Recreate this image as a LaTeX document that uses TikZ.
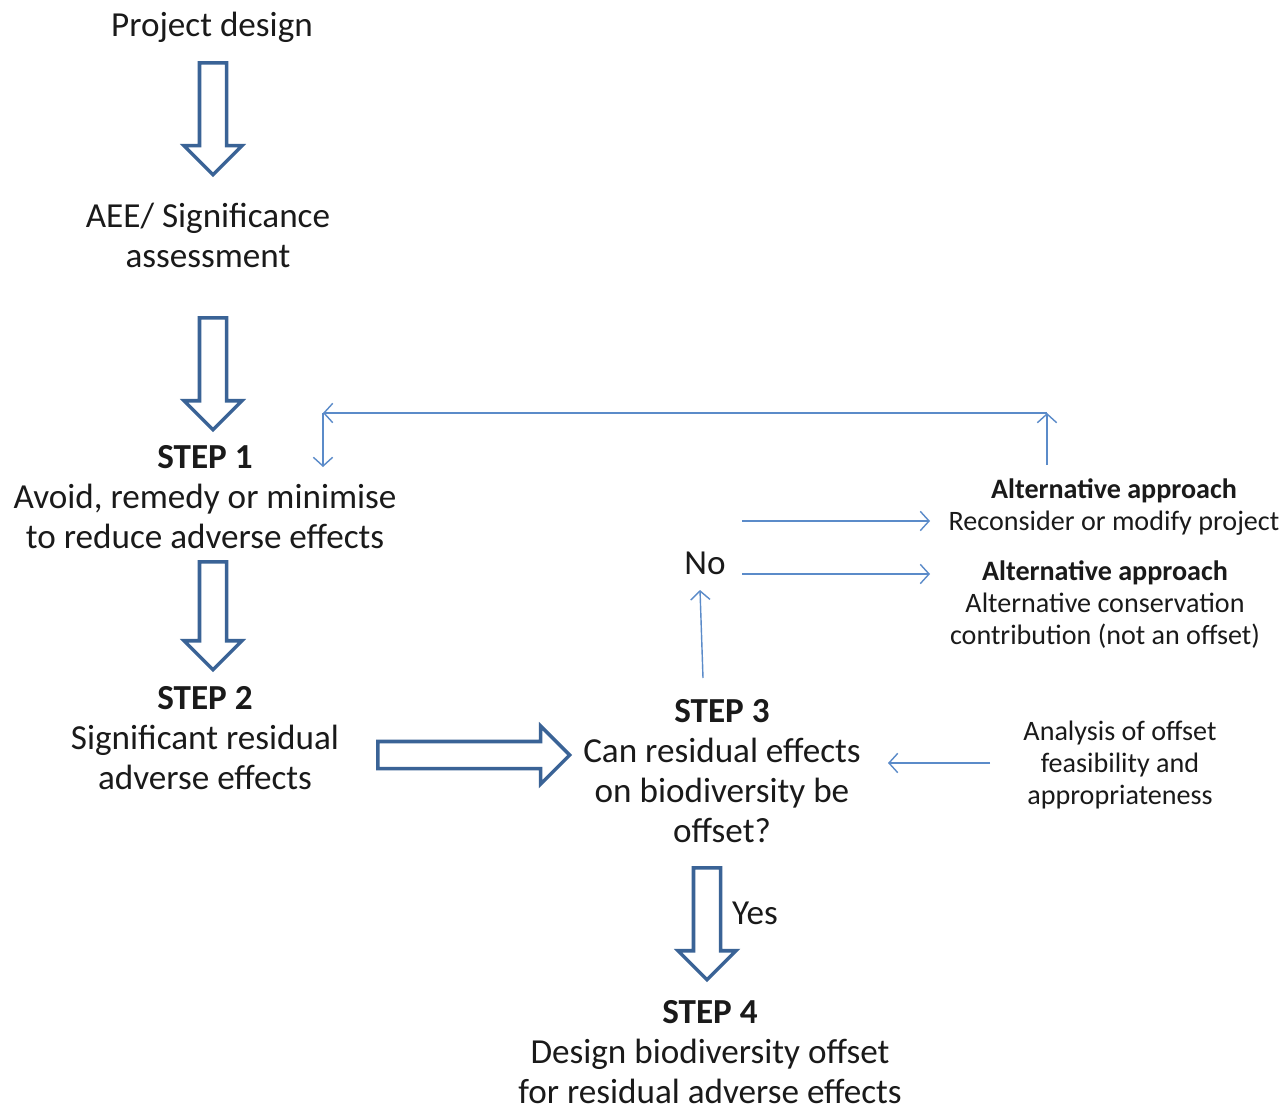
\documentclass[tikz,border=0pt]{standalone}
\usepackage{fontspec}
\setmainfont{Carlito}
\usepackage{tikz}
\usetikzlibrary{shapes.arrows, arrows.meta, positioning, calc}
\definecolor{blockcol}{HTML}{3A6396}
\definecolor{linkcol}{HTML}{5B8BC9}
\definecolor{inkcol}{HTML}{1A1A1A}

\tikzset{
  bigtext/.style={align=center, text=inkcol, inner sep=2pt,
                  font=\fontsize{20}{22.8}\selectfont},
  smalltext/.style={align=center, text=inkcol, inner sep=2pt,
                  font=\fontsize{16}{18.2}\selectfont},
  blockarrow/.style={single arrow, draw=blockcol, fill=white, line width=2pt,
                  inner xsep=0pt, inner ysep=0.235cm, single arrow head extend=0.31cm,
                  single arrow tip angle=90, minimum height=#1},
  thinarrow/.style={draw=linkcol, line width=0.8pt,
                  -{Straight Barb[length=5pt,width=11pt]}}
}

\begin{document}
\begin{tikzpicture}[x=0.02cm, y=-0.02cm]
  \fill[white] (0,0) rectangle (1285,1112);
  \useasboundingbox (0,0) rectangle (1285,1112);

  % left column
  \node[bigtext] (design) at (212,27) {Project design};
  \node[bigtext] (aee) at (208,235) {AEE/ Significance\\assessment};
  \node[bigtext] (step1) at (205,497)
    {\textbf{STEP 1}\\Avoid, remedy or minimise\\to reduce adverse effects};
  \node[bigtext] (step2) at (205,738)
    {\textbf{STEP 2}\\Significant residual\\adverse effects};

  % middle column
  \node[bigtext] (step3) at (722,771)
    {\textbf{STEP 3}\\Can residual effects\\on biodiversity be\\offset?};
  \node[bigtext] (step4) at (710,1052)
    {\textbf{STEP 4}\\Design biodiversity offset\\for residual adverse effects};
  \node[bigtext] (no) at (705,563) {No};
  \node[bigtext] (yes) at (755,913) {Yes};

  % right column
  \node[smalltext] (alt1) at (1114,507)
    {\textbf{Alternative approach}\\Reconsider or modify project};
  \node[smalltext] (alt2) at (1105,605)
    {\textbf{Alternative approach}\\Alternative conservation\\contribution (not an offset)};
  \node[smalltext] (analysis) at (1120,765)
    {Analysis of offset\\feasibility and\\appropriateness};

  % block arrows
  \node[blockarrow=2.24cm, rotate=-90] (arrA) at (213,112) {};
  \node[blockarrow=2.24cm, rotate=-90] (arrB) at (213,367) {};
  \node[blockarrow=2.16cm, rotate=-90] (arrC) at (213,609) {};
  \node[blockarrow=2.24cm, rotate=-90] (arrD) at (707,917) {};
  \node[blockarrow=3.84cm] (arrE) at (467,755) {};

  % feedback loop
  \coordinate (loopR) at (1047,413);
  \coordinate (loopL) at (323,413);
  \coordinate (loopRin) at (1047,465);
  \coordinate (loopLout) at (323,467);
  \draw[thinarrow] (loopRin) -- (loopR);
  \draw[thinarrow] (loopR) -- (loopL);
  \draw[thinarrow] (loopL) -- (loopLout);

  % no branch
  \coordinate (noA) at (742,521);
  \coordinate (noB) at (742,574);
  \coordinate (altA) at (930,521);
  \coordinate (altB) at (930,574);
  \coordinate (stepUp) at (703,678);
  \coordinate (noIn) at (700,590);
  \draw[thinarrow] (noA) -- (altA);
  \draw[thinarrow] (noB) -- (altB);
  \draw[thinarrow] (stepUp) -- (noIn);

  % feasibility check
  \coordinate (anaOut) at (990,763);
  \coordinate (stepIn) at (888,763);
  \draw[thinarrow] (anaOut) -- (stepIn);
\end{tikzpicture}
\end{document}
